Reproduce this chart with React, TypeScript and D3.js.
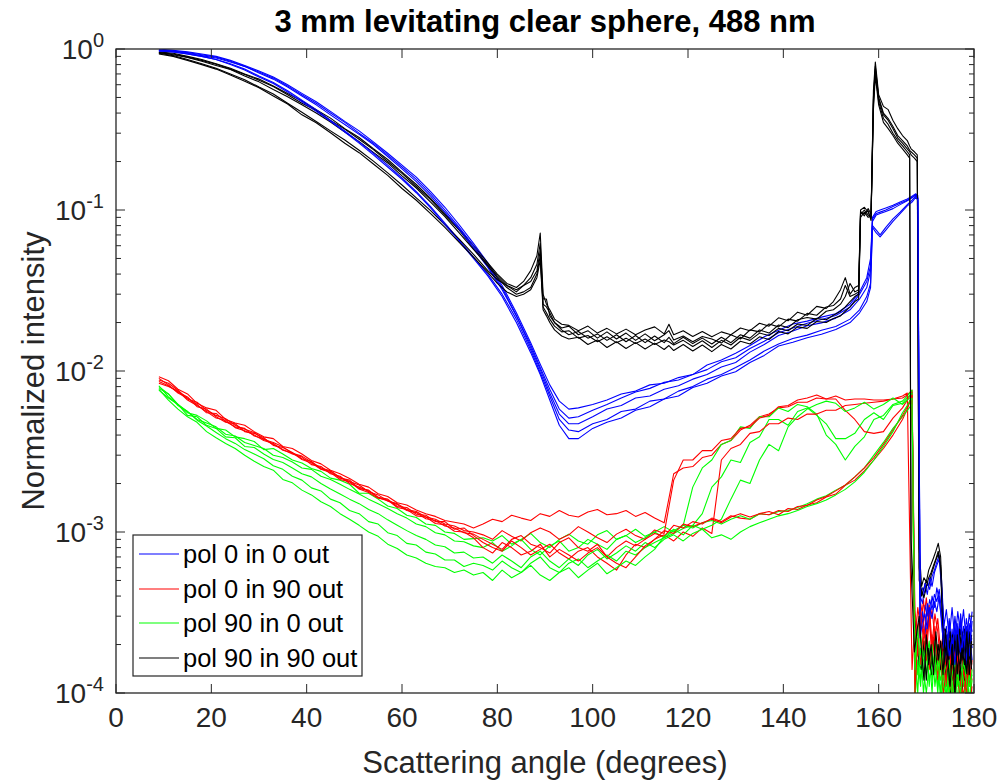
import React from "react";
import * as d3 from "d3";

const TITLE = "3 mm levitating clear sphere, 488 nm";
const X_LABEL = "Scattering angle (degrees)";
const Y_LABEL = "Normalized intensity";
const X_TICKS = [0, 20, 40, 60, 80, 100, 120, 140, 160, 180];
const Y_DECADES = [1e-4, 1e-3, 1e-2, 1e-1, 1];
const Y_EXPONENTS = ["-4", "-3", "-2", "-1", "0"];
const LEGEND_LABELS = ["pol 0 in 0 out", "pol 0 in 90 out", "pol 90 in 0 out", "pol 90 in 90 out"];
const SERIES_COLORS = ["#0000ff", "#ff0000", "#00ff00", "#000000"];

// rows: [angle, run1, run2, run3, run4, run5]
const BLUE_TABLE = [
  [9, 1.0, 0.99, 0.98, 0.98, 0.97],
  [12, 0.98, 0.97, 0.97, 0.96, 0.96],
  [15, 0.96, 0.95, 0.94, 0.93, 0.93],
  [18, 0.93, 0.92, 0.91, 0.9, 0.9],
  [21, 0.9, 0.89, 0.88, 0.86, 0.86],
  [24, 0.85, 0.84, 0.83, 0.81, 0.8],
  [27, 0.79, 0.78, 0.78, 0.75, 0.74],
  [30, 0.73, 0.72, 0.71, 0.68, 0.67],
  [33, 0.67, 0.66, 0.65, 0.62, 0.61],
  [36, 0.6, 0.59, 0.58, 0.55, 0.54],
  [39, 0.53, 0.52, 0.51, 0.48, 0.47],
  [42, 0.47, 0.46, 0.45, 0.42, 0.41],
  [45, 0.41, 0.4, 0.39, 0.36, 0.355],
  [48, 0.355, 0.35, 0.34, 0.31, 0.305],
  [51, 0.31, 0.3, 0.295, 0.265, 0.26],
  [54, 0.265, 0.26, 0.255, 0.225, 0.22],
  [57, 0.225, 0.22, 0.215, 0.19, 0.185],
  [60, 0.19, 0.185, 0.18, 0.158, 0.155],
  [63, 0.16, 0.155, 0.15, 0.13, 0.128],
  [66, 0.13, 0.126, 0.122, 0.105, 0.103],
  [69, 0.104, 0.1, 0.097, 0.083, 0.081],
  [72, 0.081, 0.078, 0.076, 0.065, 0.064],
  [75, 0.062, 0.06, 0.058, 0.051, 0.05],
  [78, 0.047, 0.045, 0.044, 0.04, 0.039],
  [81, 0.034, 0.033, 0.032, 0.03, 0.029],
  [84, 0.023, 0.022, 0.022, 0.021, 0.02],
  [87, 0.015, 0.0145, 0.014, 0.0135, 0.013],
  [89, 0.011, 0.0105, 0.0102, 0.0098, 0.0095],
  [91, 0.0082, 0.0077, 0.0073, 0.007, 0.0066],
  [93, 0.0065, 0.0058, 0.0054, 0.005, 0.0046],
  [95, 0.0058, 0.0051, 0.0047, 0.0043, 0.0038],
  [97, 0.0059, 0.0052, 0.0047, 0.0042, 0.0038],
  [100, 0.0062, 0.0057, 0.0052, 0.0047, 0.0044],
  [103, 0.0066, 0.0062, 0.0058, 0.005, 0.0048],
  [106, 0.0072, 0.0068, 0.0061, 0.0056, 0.0051],
  [109, 0.0075, 0.0074, 0.0068, 0.0058, 0.0057],
  [112, 0.0082, 0.0078, 0.007, 0.0065, 0.006],
  [115, 0.0084, 0.0085, 0.0077, 0.0067, 0.0067],
  [118, 0.0091, 0.0088, 0.0081, 0.0075, 0.007],
  [121, 0.0095, 0.0095, 0.0089, 0.008, 0.0079],
  [124, 0.0109, 0.0102, 0.0095, 0.0089, 0.0084],
  [127, 0.0117, 0.0114, 0.0106, 0.0095, 0.0093],
  [130, 0.0129, 0.0121, 0.0113, 0.0105, 0.0099],
  [133, 0.0144, 0.0138, 0.0131, 0.0117, 0.0113],
  [136, 0.0163, 0.0153, 0.0146, 0.0133, 0.0125],
  [139, 0.0179, 0.0173, 0.0166, 0.0147, 0.0143],
  [142, 0.0196, 0.0185, 0.0177, 0.0159, 0.0151],
  [145, 0.0204, 0.0198, 0.0191, 0.0167, 0.0161],
  [148, 0.0216, 0.0209, 0.0199, 0.0179, 0.0169],
  [151, 0.0227, 0.0221, 0.0213, 0.0189, 0.0181],
  [154, 0.026, 0.025, 0.024, 0.021, 0.02],
  [156, 0.031, 0.03, 0.028, 0.024, 0.023],
  [157.5, 0.038, 0.036, 0.033, 0.029, 0.027],
  [158.3, 0.05, 0.045, 0.042, 0.035, 0.033],
  [158.7, 0.09, 0.088, 0.085, 0.08, 0.078],
  [159.5, 0.098, 0.095, 0.093, 0.075, 0.072],
  [160.3, 0.1, 0.097, 0.095, 0.07, 0.068],
  [161.5, 0.103, 0.1, 0.098, 0.078, 0.075],
  [163, 0.107, 0.105, 0.102, 0.088, 0.085],
  [164.5, 0.112, 0.11, 0.108, 0.097, 0.095],
  [166, 0.117, 0.115, 0.114, 0.108, 0.106],
  [167, 0.122, 0.12, 0.119, 0.115, 0.112],
  [167.8, 0.126, 0.125, 0.124, 0.122, 0.12],
  [168.2, 0.123, 0.12, 0.118, 0.118, 0.115],
  [168.7, 3.8e-4, 3.0e-4, 2.5e-4, 4.0e-4, 2.2e-4],
  [169.2, 4.5e-4, 2.4e-4, 3.2e-4, 3.6e-4, 2.8e-4],
  [169.7, 4.2e-4, 3.5e-4, 2.2e-4, 4.8e-4, 3.1e-4],
  [170.2, 4.8e-4, 3.0e-4, 3.6e-4, 4.1e-4, 2.5e-4],
  [170.7, 4.4e-4, 3.8e-4, 2.9e-4, 5.2e-4, 3.4e-4],
  [171.2, 5.3e-4, 3.3e-4, 4.0e-4, 4.6e-4, 2.9e-4],
  [171.7, 5.8e-4, 4.1e-4, 3.4e-4, 5.6e-4, 3.7e-4],
  [172.2, 6.5e-4, 3.7e-4, 4.5e-4, 6.2e-4, 3.2e-4],
  [172.7, 7.2e-4, 4.4e-4, 3.8e-4, 6.8e-4, 4.0e-4],
  [173.2, 5.0e-4, 3.2e-4, 2.9e-4, 4.5e-4, 2.7e-4],
  [173.7, 2.6e-4, 2.0e-4, 1.7e-4, 2.4e-4, 1.9e-4],
  [174.2, 3.3e-4, 1.6e-4, 2.3e-4, 1.4e-4, 2.6e-4],
  [174.8, 2.2e-4, 2.8e-4, 1.5e-4, 2.9e-4, 1.7e-4],
  [175.4, 3.4e-4, 1.8e-4, 2.5e-4, 1.6e-4, 2.2e-4],
  [176, 2.1e-4, 3.0e-4, 1.6e-4, 2.7e-4, 1.5e-4],
  [176.6, 3.2e-4, 2.0e-4, 2.7e-4, 1.5e-4, 2.5e-4],
  [177.2, 2.3e-4, 3.1e-4, 1.7e-4, 2.9e-4, 1.8e-4],
  [177.8, 3.3e-4, 1.9e-4, 2.6e-4, 1.6e-4, 2.3e-4],
  [178.4, 2.0e-4, 2.9e-4, 1.5e-4, 2.6e-4, 1.6e-4],
  [179, 3.1e-4, 2.2e-4, 2.4e-4, 1.7e-4, 2.7e-4],
  [179.6, 2.4e-4, 3.2e-4, 1.6e-4, 2.8e-4, 1.9e-4],
];

const BLACK_TABLE = [
  [9, 0.96, 0.95, 0.95, 0.94, 0.93],
  [12, 0.94, 0.93, 0.92, 0.91, 0.9],
  [15, 0.9, 0.89, 0.885, 0.86, 0.85],
  [18, 0.86, 0.85, 0.84, 0.81, 0.8],
  [21, 0.81, 0.805, 0.79, 0.76, 0.75],
  [24, 0.76, 0.75, 0.745, 0.7, 0.69],
  [27, 0.7, 0.695, 0.68, 0.645, 0.63],
  [30, 0.65, 0.64, 0.625, 0.58, 0.575],
  [33, 0.59, 0.585, 0.56, 0.525, 0.51],
  [36, 0.53, 0.52, 0.505, 0.46, 0.455],
  [39, 0.475, 0.46, 0.45, 0.405, 0.39],
  [42, 0.42, 0.415, 0.4, 0.355, 0.348],
  [45, 0.372, 0.36, 0.352, 0.31, 0.302],
  [48, 0.32, 0.318, 0.305, 0.272, 0.26],
  [51, 0.282, 0.275, 0.266, 0.235, 0.227],
  [54, 0.24, 0.237, 0.228, 0.201, 0.193],
  [57, 0.206, 0.2, 0.196, 0.17, 0.164],
  [60, 0.172, 0.169, 0.163, 0.143, 0.136],
  [63, 0.144, 0.14, 0.137, 0.119, 0.115],
  [66, 0.118, 0.116, 0.112, 0.099, 0.095],
  [69, 0.095, 0.093, 0.091, 0.081, 0.078],
  [72, 0.076, 0.075, 0.072, 0.066, 0.063],
  [75, 0.06, 0.058, 0.057, 0.053, 0.051],
  [78, 0.047, 0.046, 0.045, 0.042, 0.041],
  [80, 0.04, 0.039, 0.038, 0.037, 0.035],
  [82, 0.035, 0.034, 0.033, 0.034, 0.031],
  [84, 0.033, 0.031, 0.03, 0.032, 0.029],
  [85.5, 0.036, 0.034, 0.031, 0.034, 0.03],
  [87, 0.042, 0.038, 0.033, 0.036, 0.032],
  [88.3, 0.052, 0.046, 0.04, 0.042, 0.038],
  [89, 0.072, 0.062, 0.052, 0.056, 0.049],
  [89.6, 0.03, 0.028, 0.025, 0.026, 0.024],
  [90.3, 0.026, 0.028, 0.023, 0.025, 0.022],
  [91, 0.024, 0.022, 0.021, 0.023, 0.02],
  [92, 0.021, 0.02, 0.019, 0.02, 0.018],
  [93.5, 0.0195, 0.018, 0.0175, 0.0185, 0.0165],
  [95, 0.0192, 0.0168, 0.0178, 0.019, 0.0158],
  [97, 0.0178, 0.0176, 0.016, 0.0168, 0.0162],
  [99, 0.019, 0.016, 0.0166, 0.0178, 0.0146],
  [101, 0.0172, 0.017, 0.0152, 0.016, 0.0156],
  [103, 0.0184, 0.0155, 0.0163, 0.0175, 0.014],
  [105, 0.017, 0.0168, 0.015, 0.0158, 0.0152],
  [107, 0.0182, 0.0152, 0.016, 0.0172, 0.0138],
  [109, 0.0168, 0.0166, 0.0148, 0.0155, 0.015],
  [111, 0.018, 0.015, 0.0158, 0.017, 0.0137],
  [113, 0.0188, 0.0165, 0.0146, 0.0154, 0.0149],
  [115, 0.017, 0.015, 0.0156, 0.0168, 0.0136],
  [116, 0.0195, 0.0162, 0.0152, 0.0178, 0.0144],
  [117, 0.0168, 0.0148, 0.0145, 0.0156, 0.0134],
  [119, 0.0178, 0.0162, 0.0155, 0.0165, 0.0146],
  [121, 0.0164, 0.0148, 0.0142, 0.0152, 0.0133],
  [123, 0.0176, 0.016, 0.0154, 0.0164, 0.0145],
  [125, 0.0163, 0.0147, 0.014, 0.0158, 0.0132],
  [127, 0.0175, 0.0162, 0.0155, 0.0149, 0.0146],
  [129, 0.0168, 0.015, 0.0145, 0.0168, 0.0137],
  [131, 0.0185, 0.0168, 0.0162, 0.0158, 0.0153],
  [133, 0.0178, 0.016, 0.0155, 0.018, 0.0147],
  [135, 0.0198, 0.018, 0.0172, 0.0175, 0.0163],
  [137, 0.019, 0.0172, 0.0166, 0.0196, 0.0157],
  [139, 0.0214, 0.0193, 0.0184, 0.0188, 0.0176],
  [141, 0.0205, 0.0186, 0.0178, 0.021, 0.017],
  [143, 0.0232, 0.0208, 0.0196, 0.0204, 0.0188],
  [145, 0.0222, 0.0215, 0.0192, 0.0228, 0.0184],
  [147, 0.0252, 0.021, 0.0212, 0.0222, 0.0203],
  [149, 0.0245, 0.0235, 0.0208, 0.025, 0.02],
  [150.5, 0.027, 0.024, 0.0222, 0.0255, 0.0212],
  [152, 0.032, 0.026, 0.0235, 0.028, 0.022],
  [153, 0.038, 0.029, 0.025, 0.034, 0.0235],
  [154, 0.03, 0.035, 0.027, 0.029, 0.025],
  [155, 0.033, 0.031, 0.029, 0.03, 0.027],
  [155.8, 0.034, 0.032, 0.03, 0.031, 0.028],
  [156.2, 0.1, 0.098, 0.094, 0.096, 0.09],
  [157, 0.104, 0.092, 0.1, 0.095, 0.097],
  [157.8, 0.097, 0.102, 0.093, 0.099, 0.09],
  [158.4, 0.088, 0.094, 0.09, 0.086, 0.092],
  [158.9, 0.55, 0.5, 0.45, 0.48, 0.42],
  [159.3, 0.83, 0.78, 0.72, 0.75, 0.68],
  [160, 0.52, 0.5, 0.47, 0.49, 0.45],
  [161, 0.44, 0.4, 0.37, 0.39, 0.35],
  [162, 0.42, 0.37, 0.34, 0.36, 0.32],
  [163, 0.36, 0.33, 0.3, 0.32, 0.29],
  [164, 0.32, 0.29, 0.27, 0.28, 0.26],
  [165, 0.29, 0.27, 0.25, 0.26, 0.24],
  [166, 0.27, 0.25, 0.23, 0.24, 0.22],
  [166.5, 0.25, 0.235, 0.22, 0.23, 0.21],
  [166.8, 0.24, 0.23, 9.0e-4, 0.22, 6.0e-4],
  [167.5, 0.23, 0.22, 3.0e-4, 0.21, 1.8e-4],
  [168.1, 0.22, 0.21, 2.0e-4, 0.2, 2.5e-4],
  [168.5, 8.0e-4, 6.0e-4, 1.5e-4, 5.0e-4, 3.0e-4],
  [169, 4.6e-4, 4.0e-4, 1.4e-4, 4.3e-4, 1.8e-4],
  [169.5, 5.2e-4, 4.5e-4, 2.1e-4, 3.9e-4, 1.2e-4],
  [170, 4.9e-4, 5.0e-4, 1.2e-4, 4.6e-4, 2.3e-4],
  [170.5, 5.8e-4, 4.6e-4, 1.9e-4, 5.2e-4, 1.5e-4],
  [171, 6.3e-4, 5.4e-4, 1.3e-4, 5.6e-4, 2.0e-4],
  [171.5, 6.9e-4, 6.0e-4, 2.2e-4, 6.2e-4, 1.3e-4],
  [172, 7.6e-4, 6.7e-4, 1.5e-4, 6.8e-4, 2.4e-4],
  [172.5, 8.5e-4, 7.3e-4, 2.0e-4, 7.6e-4, 1.6e-4],
  [173, 7.0e-4, 6.2e-4, 1.4e-4, 6.0e-4, 2.1e-4],
  [173.5, 3.0e-4, 2.6e-4, 2.3e-4, 2.2e-4, 1.3e-4],
  [174, 1.6e-4, 2.4e-4, 1.3e-4, 1.9e-4, 2.5e-4],
  [174.5, 2.3e-4, 1.4e-4, 2.2e-4, 1.2e-4, 1.6e-4],
  [175, 1.3e-4, 2.1e-4, 0.9e-4, 2.4e-4, 1.1e-4],
  [175.5, 2.2e-4, 1.2e-4, 2.3e-4, 1.5e-4, 2.0e-4],
  [176, 1.5e-4, 2.3e-4, 1.1e-4, 2.1e-4, 0.9e-4],
  [176.5, 2.4e-4, 1.5e-4, 1.9e-4, 1.3e-4, 2.3e-4],
  [177, 1.2e-4, 2.0e-4, 1.4e-4, 2.5e-4, 1.2e-4],
  [177.5, 2.1e-4, 0.9e-4, 2.4e-4, 1.6e-4, 1.9e-4],
  [178, 1.4e-4, 2.5e-4, 1.2e-4, 2.0e-4, 1.5e-4],
  [178.5, 2.5e-4, 1.6e-4, 2.0e-4, 1.3e-4, 2.4e-4],
  [179, 1.6e-4, 2.2e-4, 1.3e-4, 2.4e-4, 1.3e-4],
  [179.5, 2.3e-4, 1.4e-4, 2.2e-4, 1.5e-4, 2.1e-4],
];

// shared angle grid for the cross-polarized runs (red and green)
const RG_ANGLES = [
  9, 11, 13, 15, 17, 19, 21, 23, 25, 27, 29, 31, 33, 35, 37, 39, 41, 43, 45, 47,
  49, 51, 53, 55, 57, 59, 61, 63, 65, 67, 69, 71, 73, 75, 77, 79, 81, 83, 85, 87,
  89, 91, 93, 95, 97, 99, 101, 103, 105, 107, 109, 111, 113, 115, 117, 119, 121, 123, 125, 127,
  129, 131, 133, 135, 137, 139, 141, 143, 145, 147, 149, 151, 153, 155, 157, 159, 161, 163, 165, 166,
  167, 167.6, 168.2, 168.8, 169.4, 170, 170.6, 171.2, 171.8, 172.4, 173, 173.6, 174.2, 174.8, 175.4, 176,
  176.6, 177.2, 177.8, 178.4, 179, 179.6,
];

const RED_1 = [
  9.2e-3, 8.7e-3, 7.7e-3, 7.2e-3, 6.3e-3, 5.9e-3, 5.7e-3, 5.0e-3, 4.75e-3, 4.6e-3, 4.2e-3, 3.9e-3, 3.8e-3, 3.4e-3, 3.3e-3, 3.05e-3, 2.78e-3,
  2.65e-3, 2.42e-3, 2.3e-3, 2.15e-3, 1.98e-3, 1.9e-3, 1.73e-3, 1.66e-3, 1.52e-3, 1.47e-3, 1.37e-3, 1.3e-3, 1.25e-3, 1.18e-3, 1.15e-3, 1.12e-3, 1.06e-3,
  1.12e-3, 1.2e-3, 1.16e-3, 1.27e-3, 1.22e-3, 1.18e-3, 1.3e-3, 1.25e-3, 1.36e-3, 1.27e-3, 1.24e-3, 1.33e-3, 1.38e-3, 1.28e-3, 1.3e-3, 1.36e-3, 1.25e-3, 1.32e-3, 1.22e-3, 1.14e-3,
  2.3e-3, 2.5e-3, 2.55e-3, 2.9e-3, 3.0e-3, 3.5e-3, 3.7e-3, 4.3e-3, 4.6e-3, 5.2e-3, 5.4e-3, 5.9e-3, 6.0e-3, 6.4e-3, 6.4e-3, 6.8e-3, 6.7e-3, 7.0e-3, 6.6e-3, 6.7e-3, 6.7e-3, 6.6e-3, 6.6e-3, 6.7e-3, 6.8e-3,
  7.1e-3, 7.6e-3,
  3.2e-4, 2.4e-4, 3.6e-4, 2.8e-4, 3.9e-4, 2.6e-4, 3.3e-4, 2.2e-4, 2.9e-4, 1.8e-4, 2.4e-4, 1.4e-4, 2.1e-4, 1.2e-4, 1.9e-4, 1.5e-4, 2.2e-4, 1.3e-4, 1.8e-4, 1.1e-4, 1.6e-4,
];
const RED_2 = [
  8.8e-3, 8.4e-3, 7.6e-3, 6.7e-3, 6.4e-3, 5.7e-3, 5.3e-3, 5.05e-3, 4.6e-3, 4.35e-3, 4.15e-3, 3.75e-3, 3.6e-3, 3.38e-3, 3.08e-3, 2.96e-3, 2.72e-3,
  2.5e-3, 2.4e-3, 2.18e-3, 2.06e-3, 1.96e-3, 1.78e-3, 1.7e-3, 1.56e-3, 1.5e-3, 1.38e-3, 1.34e-3, 1.24e-3, 1.2e-3, 1.12e-3, 1.09e-3, 1.02e-3, 1.0e-3,
  0.96e-3, 0.9e-3, 1.02e-3, 0.94e-3, 0.88e-3, 0.99e-3, 1.06e-3, 1.0e-3, 0.9e-3, 0.96e-3, 1.08e-3, 1.0e-3, 0.92e-3, 0.86e-3, 0.97e-3, 1.04e-3, 0.95e-3, 0.9e-3, 1.03e-3, 0.98e-3,
  2.1e-3, 2.8e-3, 2.8e-3, 3.2e-3, 3.2e-3, 3.7e-3, 3.8e-3, 4.4e-3, 4.5e-3, 5.1e-3, 5.3e-3, 6.0e-3, 6.1e-3, 6.6e-3, 6.8e-3, 7.1e-3, 6.7e-3, 6.7e-3, 5.7e-3, 5.0e-3, 4.2e-3, 4.1e-3, 4.2e-3, 5.1e-3, 5.9e-3,
  6.6e-3, 7.4e-3,
  2.0e-4, 3.4e-4, 2.5e-4, 3.8e-4, 2.3e-4, 3.5e-4, 2.0e-4, 3.1e-4, 2.4e-4, 1.5e-4, 1.9e-4, 1.1e-4, 1.7e-4, 1.4e-4, 1.1e-4, 2.0e-4, 1.2e-4, 1.7e-4, 0.9e-4, 1.5e-4, 1.2e-4,
];
const RED_3 = [
  8.6e-3, 8.1e-3, 7.4e-3, 6.9e-3, 6.0e-3, 5.8e-3, 5.2e-3, 4.8e-3, 4.7e-3, 4.2e-3, 4.1e-3, 3.85e-3, 3.45e-3, 3.35e-3, 3.12e-3, 2.85e-3, 2.74e-3,
  2.46e-3, 2.38e-3, 2.16e-3, 2.1e-3, 1.86e-3, 1.82e-3, 1.64e-3, 1.6e-3, 1.44e-3, 1.42e-3, 1.29e-3, 1.27e-3, 1.16e-3, 1.16e-3, 1.04e-3, 1.06e-3, 0.95e-3,
  0.86e-3, 0.8e-3, 0.76e-3, 0.88e-3, 0.8e-3, 0.72e-3, 0.78e-3, 0.84e-3, 0.74e-3, 0.68e-3, 0.76e-3, 0.8e-3, 0.7e-3, 0.64e-3, 0.58e-3, 0.72e-3, 0.84e-3, 0.8e-3, 0.9e-3, 0.96e-3,
  0.88e-3, 1.0e-3, 0.94e-3, 1.06e-3, 0.98e-3, 2.8e-3, 3.3e-3, 3.5e-3, 4.1e-3, 4.2e-3, 4.7e-3, 4.7e-3, 5.1e-3, 5.0e-3, 5.4e-3, 5.4e-3, 5.7e-3, 5.7e-3, 6.1e-3, 6.2e-3, 6.3e-3, 6.4e-3, 6.5e-3, 6.7e-3,
  7.0e-3, 7.3e-3,
  1.4e-4, 2.8e-4, 1.9e-4, 3.2e-4, 2.7e-4, 2.1e-4, 2.9e-4, 1.7e-4, 2.3e-4, 1.3e-4, 1.6e-4, 2.0e-4, 1.2e-4, 1.8e-4, 1.4e-4, 0.9e-4, 1.6e-4, 1.1e-4, 1.5e-4, 1.0e-4, 1.3e-4,
];
const RED_4 = [
  9.0e-3, 8.2e-3, 7.3e-3, 6.8e-3, 6.2e-3, 5.5e-3, 5.45e-3, 4.85e-3, 4.5e-3, 4.4e-3, 3.95e-3, 3.8e-3, 3.5e-3, 3.25e-3, 3.05e-3, 2.92e-3, 2.62e-3,
  2.55e-3, 2.3e-3, 2.22e-3, 2.0e-3, 1.9e-3, 1.8e-3, 1.64e-3, 1.56e-3, 1.48e-3, 1.36e-3, 1.32e-3, 1.21e-3, 1.18e-3, 1.09e-3, 1.06e-3, 0.99e-3, 0.97e-3,
  0.9e-3, 0.84e-3, 0.78e-3, 0.9e-3, 0.95e-3, 0.84e-3, 0.8e-3, 0.74e-3, 0.86e-3, 0.92e-3, 0.8e-3, 0.76e-3, 0.84e-3, 0.7e-3, 0.8e-3, 0.88e-3, 0.82e-3, 0.9e-3, 0.98e-3, 0.94e-3,
  1.1e-3, 1.06e-3, 1.16e-3, 1.12e-3, 1.22e-3, 1.16e-3, 1.26e-3, 1.22e-3, 1.2e-3, 1.3e-3, 1.34e-3, 1.28e-3, 1.4e-3, 1.38e-3, 1.47e-3, 1.52e-3, 1.65e-3, 1.72e-3, 1.95e-3, 2.1e-3, 2.4e-3, 2.8e-3, 3.3e-3, 4.0e-3, 5.0e-3,
  5.8e-3, 7.0e-3,
  2.6e-4, 1.7e-4, 3.0e-4, 2.2e-4, 1.6e-4, 3.1e-4, 1.8e-4, 2.6e-4, 1.5e-4, 2.1e-4, 1.2e-4, 1.7e-4, 1.0e-4, 1.5e-4, 1.8e-4, 1.2e-4, 0.9e-4, 1.4e-4, 1.1e-4, 1.6e-4, 0.9e-4,
];
const RED_5 = [
  8.4e-3, 8.0e-3, 7.5e-3, 6.6e-3, 6.1e-3, 5.6e-3, 5.1e-3, 4.95e-3, 4.45e-3, 4.25e-3, 4.0e-3, 3.7e-3, 3.55e-3, 3.22e-3, 3.1e-3, 2.82e-3, 2.68e-3,
  2.45e-3, 2.34e-3, 2.12e-3, 2.05e-3, 1.85e-3, 1.76e-3, 1.62e-3, 1.58e-3, 1.42e-3, 1.38e-3, 1.26e-3, 1.24e-3, 1.13e-3, 1.11e-3, 1.01e-3, 1.0e-3, 0.92e-3,
  0.8e-3, 0.74e-3, 0.86e-3, 0.8e-3, 0.72e-3, 0.76e-3, 0.84e-3, 0.7e-3, 0.78e-3, 0.72e-3, 0.66e-3, 0.74e-3, 0.8e-3, 0.7e-3, 0.64e-3, 0.6e-3, 0.7e-3, 0.82e-3, 0.9e-3, 1.02e-3,
  0.98e-3, 1.12e-3, 1.08e-3, 1.14e-3, 1.2e-3, 1.14e-3, 1.24e-3, 1.3e-3, 1.24e-3, 1.3e-3, 1.28e-3, 1.36e-3, 1.34e-3, 1.44e-3, 1.46e-3, 1.58e-3, 1.66e-3, 1.8e-3, 1.96e-3, 2.2e-3, 2.5e-3, 2.9e-3, 3.5e-3, 4.3e-3, 5.3e-3,
  6.0e-3, 7.1e-3,
  1.0e-4, 2.2e-4, 1.5e-4, 2.5e-4, 1.9e-4, 1.4e-4, 2.3e-4, 1.6e-4, 1.2e-4, 1.7e-4, 1.0e-4, 1.4e-4, 1.6e-4, 0.9e-4, 1.3e-4, 1.7e-4, 1.1e-4, 1.0e-4, 1.3e-4, 0.8e-4, 1.1e-4,
];

const GREEN_1 = [
  8.0e-3, 7.2e-3, 6.2e-3, 5.5e-3, 5.3e-3, 4.9e-3, 4.4e-3, 4.3e-3, 3.9e-3, 3.8e-3, 3.65e-3, 3.25e-3, 3.3e-3, 3.05e-3, 2.8e-3, 2.68e-3, 2.48e-3,
  2.38e-3, 2.16e-3, 2.1e-3, 1.98e-3, 1.74e-3, 1.74e-3, 1.6e-3, 1.45e-3, 1.4e-3, 1.27e-3, 1.23e-3, 1.12e-3, 1.1e-3, 1.0e-3, 0.98e-3, 0.9e-3, 0.91e-3,
  0.92e-3, 0.88e-3, 0.95e-3, 0.84e-3, 0.9e-3, 0.98e-3, 0.86e-3, 0.8e-3, 0.9e-3, 0.97e-3, 0.88e-3, 0.84e-3, 0.96e-3, 1.02e-3, 0.9e-3, 0.95e-3, 1.04e-3, 0.94e-3, 1.0e-3, 1.08e-3, 1.0e-3, 1.1e-3,
  1.9e-3, 2.5e-3, 2.8e-3, 3.5e-3, 3.7e-3, 4.5e-3, 4.4e-3, 5.2e-3, 5.2e-3, 5.9e-3, 5.6e-3, 6.2e-3, 6.0e-3, 5.4e-3, 4.0e-3, 3.5e-3, 2.8e-3, 3.4e-3, 3.9e-3, 5.0e-3, 5.3e-3, 6.2e-3, 6.5e-3,
  7.0e-3, 7.6e-3,
  1.2e-4, 2.0e-4, 1.4e-4, 1.7e-4, 2.3e-4, 1.1e-4, 1.8e-4, 1.3e-4, 2.0e-4, 1.0e-4, 1.5e-4, 1.2e-4, 0.9e-4, 1.6e-4, 1.1e-4, 1.4e-4, 0.8e-4, 1.3e-4, 1.0e-4, 1.5e-4, 0.9e-4,
];
const GREEN_2 = [
  7.8e-3, 7.2e-3, 6.1e-3, 5.6e-3, 5.0e-3, 4.75e-3, 4.5e-3, 4.05e-3, 3.95e-3, 3.6e-3, 3.45e-3, 3.3e-3, 3.0e-3, 2.9e-3, 2.72e-3, 2.5e-3, 2.45e-3,
  2.22e-3, 2.12e-3, 1.98e-3, 1.84e-3, 1.72e-3, 1.6e-3, 1.5e-3, 1.4e-3, 1.3e-3, 1.22e-3, 1.12e-3, 1.08e-3, 0.99e-3, 0.96e-3, 0.88e-3, 0.87e-3, 0.82e-3,
  0.8e-3, 0.86e-3, 0.76e-3, 0.82e-3, 0.9e-3, 0.78e-3, 0.72e-3, 0.82e-3, 0.88e-3, 0.76e-3, 0.8e-3, 0.9e-3, 0.84e-3, 0.78e-3, 0.9e-3, 0.95e-3, 0.86e-3, 0.92e-3, 1.0e-3, 0.92e-3, 0.98e-3, 1.05e-3, 1.1e-3,
  1.3e-3, 1.9e-3, 2.2e-3, 2.8e-3, 2.7e-3, 3.6e-3, 3.9e-3, 5.0e-3, 5.0e-3, 4.6e-3, 5.6e-3, 5.9e-3, 5.3e-3, 4.7e-3, 3.8e-3, 3.8e-3, 4.1e-3, 5.0e-3, 5.5e-3, 5.0e-3, 6.1e-3, 6.3e-3,
  6.8e-3, 7.3e-3,
  2.2e-4, 1.3e-4, 1.9e-4, 1.0e-4, 1.6e-4, 2.1e-4, 1.2e-4, 1.7e-4, 1.1e-4, 1.5e-4, 0.9e-4, 1.7e-4, 1.3e-4, 1.0e-4, 1.5e-4, 0.9e-4, 1.3e-4, 1.1e-4, 1.6e-4, 0.9e-4, 1.2e-4,
];
const GREEN_3 = [
  7.6e-3, 6.8e-3, 6.2e-3, 5.3e-3, 5.2e-3, 4.6e-3, 4.4e-3, 3.9e-3, 3.85e-3, 3.4e-3, 3.35e-3, 3.05e-3, 2.82e-3, 2.7e-3, 2.5e-3, 2.3e-3, 2.2e-3,
  2.0e-3, 1.85e-3, 1.72e-3, 1.6e-3, 1.5e-3, 1.38e-3, 1.3e-3, 1.19e-3, 1.1e-3, 1.02e-3, 0.95e-3, 0.9e-3, 0.83e-3, 0.81e-3, 0.74e-3, 0.75e-3, 0.69e-3,
  0.7e-3, 0.64e-3, 0.72e-3, 0.66e-3, 0.6e-3, 0.7e-3, 0.76e-3, 0.66e-3, 0.6e-3, 0.68e-3, 0.62e-3, 0.72e-3, 0.78e-3, 0.68e-3, 0.74e-3, 0.82e-3, 0.76e-3, 0.86e-3, 0.8e-3, 0.9e-3, 0.96e-3, 0.88e-3, 0.98e-3, 1.04e-3, 1.1e-3, 1.2e-3,
  1.6e-3, 2.1e-3, 2.0e-3, 2.8e-3, 3.5e-3, 3.2e-3, 4.5e-3, 5.2e-3, 5.8e-3, 6.2e-3, 6.5e-3, 6.3e-3, 5.6e-3, 5.9e-3, 6.4e-3, 5.8e-3, 6.2e-3, 6.8e-3, 6.2e-3,
  6.6e-3, 7.0e-3,
  0.9e-4, 1.6e-4, 1.1e-4, 2.2e-4, 1.3e-4, 1.8e-4, 1.0e-4, 2.1e-4, 1.4e-4, 1.2e-4, 1.8e-4, 0.9e-4, 1.4e-4, 1.2e-4, 0.8e-4, 1.6e-4, 1.2e-4, 0.9e-4, 1.4e-4, 1.1e-4, 1.3e-4,
];
const GREEN_4 = [
  8.1e-3, 6.9e-3, 6.2e-3, 5.6e-3, 4.95e-3, 4.55e-3, 4.15e-3, 3.8e-3, 3.55e-3, 3.25e-3, 3.05e-3, 2.85e-3, 2.58e-3, 2.45e-3, 2.22e-3, 2.1e-3, 1.88e-3,
  1.8e-3, 1.6e-3, 1.52e-3, 1.36e-3, 1.3e-3, 1.16e-3, 1.12e-3, 0.99e-3, 0.95e-3, 0.85e-3, 0.83e-3, 0.75e-3, 0.73e-3, 0.67e-3, 0.67e-3, 0.61e-3, 0.64e-3,
  0.62e-3, 0.58e-3, 0.66e-3, 0.6e-3, 0.56e-3, 0.64e-3, 0.7e-3, 0.6e-3, 0.56e-3, 0.64e-3, 0.68e-3, 0.6e-3, 0.66e-3, 0.72e-3, 0.66e-3, 0.76e-3, 0.72e-3, 0.8e-3, 0.86e-3, 0.92e-3,
  1.02e-3, 1.1e-3, 1.06e-3, 1.14e-3, 1.18e-3, 1.12e-3, 1.2e-3, 1.26e-3, 1.2e-3, 1.3e-3, 1.28e-3, 1.34e-3, 1.36e-3, 1.42e-3, 1.5e-3, 1.6e-3, 1.68e-3, 1.82e-3, 1.95e-3, 2.2e-3, 2.5e-3, 3.0e-3, 3.6e-3, 4.4e-3, 5.2e-3,
  5.7e-3, 6.2e-3,
  1.8e-4, 1.0e-4, 2.4e-4, 1.4e-4, 1.0e-4, 1.5e-4, 2.0e-4, 1.1e-4, 1.6e-4, 0.9e-4, 1.3e-4, 1.5e-4, 1.0e-4, 1.3e-4, 1.6e-4, 1.1e-4, 1.5e-4, 1.2e-4, 0.9e-4, 1.3e-4, 1.0e-4,
];
const GREEN_5 = [
  7.7e-3, 6.6e-3, 5.8e-3, 5.2e-3, 4.8e-3, 4.2e-3, 3.85e-3, 3.55e-3, 3.3e-3, 3.0e-3, 2.75e-3, 2.55e-3, 2.42e-3, 2.12e-3, 2.02e-3, 1.82e-3, 1.7e-3,
  1.54e-3, 1.44e-3, 1.3e-3, 1.2e-3, 1.1e-3, 1.0e-3, 0.94e-3, 0.84e-3, 0.79e-3, 0.72e-3, 0.69e-3, 0.64e-3, 0.61e-3, 0.6e-3, 0.56e-3, 0.58e-3, 0.54e-3,
  0.56e-3, 0.5e-3, 0.58e-3, 0.52e-3, 0.56e-3, 0.62e-3, 0.54e-3, 0.5e-3, 0.56e-3, 0.6e-3, 0.52e-3, 0.58e-3, 0.64e-3, 0.55e-3, 0.6e-3, 0.66e-3, 0.62e-3, 0.7e-3,
  0.78e-3, 0.94e-3, 1.04e-3, 0.96e-3, 1.1e-3, 1.04e-3, 0.92e-3, 0.96e-3, 0.9e-3, 1.0e-3, 1.08e-3, 1.14e-3, 1.2e-3, 1.26e-3, 1.3e-3, 1.36e-3, 1.44e-3, 1.5e-3, 1.58e-3, 1.7e-3, 1.84e-3, 2.05e-3, 2.35e-3, 2.8e-3, 3.4e-3, 4.2e-3, 5.5e-3,
  6.1e-3, 6.8e-3,
  1.4e-4, 2.6e-4, 1.2e-4, 1.6e-4, 2.0e-4, 1.2e-4, 1.5e-4, 1.7e-4, 1.0e-4, 1.9e-4, 1.1e-4, 1.0e-4, 1.6e-4, 0.9e-4, 1.2e-4, 1.3e-4, 1.0e-4, 1.6e-4, 1.2e-4, 0.9e-4, 1.4e-4,
];

const RED_RUNS = [RED_1, RED_2, RED_3, RED_4, RED_5];
const GREEN_RUNS = [GREEN_1, GREEN_2, GREEN_3, GREEN_4, GREEN_5];

const FONT = "'Liberation Sans', Arial, Helvetica, sans-serif";
const AXIS = "#262626";

export default function App() {
  const W = 1000;
  const H = 781;
  const left = 116, right = 974, top = 49, bottom = 693;
  const x = d3.scaleLinear().domain([0, 180]).range([left, right]);
  const y = d3.scaleLog().domain([1e-4, 1]).range([bottom, top]);
  const line = d3
    .line<[number, number]>()
    .x((d) => x(d[0]))
    .y((d) => y(d[1]));

  const fromTable = (t: number[][]) =>
    [1, 2, 3, 4, 5].map((k) => t.map((r) => [r[0], r[k]] as [number, number]));
  const fromRuns = (runs: number[][]) =>
    runs.map((run) =>
      run
        .map((v, i) => [RG_ANGLES[i], v] as [number, number])
        .filter((p) => p[0] !== undefined && p[1] !== undefined)
    );

  const groups = [fromTable(BLUE_TABLE), fromRuns(RED_RUNS), fromRuns(GREEN_RUNS), fromTable(BLACK_TABLE)];
  const paths: { d: string; color: string }[] = [];
  for (let i = 0; i < 5; i++) {
    groups.forEach((g, s) => {
      if (g[i]) paths.push({ d: line(g[i]) || "", color: SERIES_COLORS[s] });
    });
  }

  const minorTicks: number[] = [];
  Y_DECADES.slice(0, 4).forEach((dec) => {
    for (let m = 2; m <= 9; m++) minorTicks.push(dec * m);
  });

  const majorLen = 9;
  const minorLen = 5;

  const legendX = 133, legendY = 535, legendW = 229, legendH = 141;
  const rowYs = [554, 589, 623, 658];

  return (
    <svg
      width={W}
      height={H}
      viewBox={`0 0 ${W} ${H}`}
      style={{ position: "absolute", left: 0, top: 0, background: "#fff" }}
      fontFamily={FONT}
    >
      <rect x={0} y={0} width={W} height={H} fill="#ffffff" />
      <defs>
        <clipPath id="plotClip">
          <rect x={left} y={top} width={right - left} height={bottom - top} />
        </clipPath>
      </defs>
      <rect x={left} y={top} width={right - left} height={bottom - top} fill="#ffffff" />

      <g clipPath="url(#plotClip)">
        {paths.map((p, i) => (
          <path key={i} d={p.d} fill="none" stroke={p.color} strokeWidth={1.1} strokeLinejoin="round" />
        ))}
      </g>

      <rect x={left} y={top} width={right - left} height={bottom - top} fill="none" stroke={AXIS} strokeWidth={1.3} />

      {X_TICKS.map((t) => (
        <g key={"x" + t}>
          <line x1={x(t)} x2={x(t)} y1={bottom} y2={bottom - majorLen} stroke={AXIS} strokeWidth={1} />
          <line x1={x(t)} x2={x(t)} y1={top} y2={top + majorLen} stroke={AXIS} strokeWidth={1} />
          <text x={x(t)} y={727} textAnchor="middle" fontSize={28} fill={AXIS}>
            {t}
          </text>
        </g>
      ))}

      {Y_DECADES.map((t, i) => (
        <g key={"y" + i}>
          <line x1={left} x2={left + majorLen} y1={y(t)} y2={y(t)} stroke={AXIS} strokeWidth={1} />
          <line x1={right} x2={right - majorLen} y1={y(t)} y2={y(t)} stroke={AXIS} strokeWidth={1} />
          <text x={104} y={y(t) + 10} textAnchor="end" fontSize={28} fill={AXIS}>
            10
            <tspan dy={-12} fontSize={20}>
              {Y_EXPONENTS[i]}
            </tspan>
          </text>
        </g>
      ))}
      {minorTicks.map((t, i) => (
        <g key={"m" + i}>
          <line x1={left} x2={left + minorLen} y1={y(t)} y2={y(t)} stroke={AXIS} strokeWidth={1} />
          <line x1={right} x2={right - minorLen} y1={y(t)} y2={y(t)} stroke={AXIS} strokeWidth={1} />
        </g>
      ))}

      <text x={(left + right) / 2} y={32} textAnchor="middle" fontSize={31} fontWeight="bold" fill="#000">
        {TITLE}
      </text>
      <text x={(left + right) / 2} y={773} textAnchor="middle" fontSize={31} fill={AXIS}>
        {X_LABEL}
      </text>
      <text
        transform={`translate(44, ${(top + bottom) / 2}) rotate(-90)`}
        textAnchor="middle"
        fontSize={31}
        fill={AXIS}
      >
        {Y_LABEL}
      </text>

      <rect x={legendX} y={legendY} width={legendW} height={legendH} fill="#ffffff" stroke={AXIS} strokeWidth={1.2} />
      {LEGEND_LABELS.map((lab, i) => (
        <g key={lab}>
          <line x1={139} x2={179} y1={rowYs[i]} y2={rowYs[i]} stroke={SERIES_COLORS[i]} strokeWidth={1.1} />
          <text x={183} y={rowYs[i] + 9} fontSize={25.5} fill="#000">
            {lab}
          </text>
        </g>
      ))}
    </svg>
  );
}
